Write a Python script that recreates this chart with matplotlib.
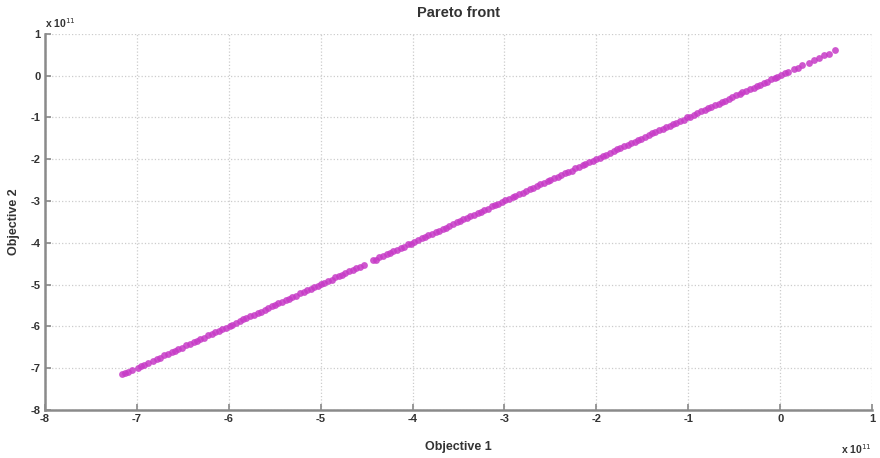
import matplotlib
matplotlib.use("Agg")
import matplotlib.pyplot as plt

# Pareto front points (units of 1e11)
obj1 = [-7.16, -7.13, -7.10, -7.05, -6.99, -6.95, -6.92, -6.88, -6.82, -6.78,
        -6.75, -6.70, -6.66, -6.62, -6.58, -6.55, -6.51, -6.46, -6.42, -6.38,
        -6.35, -6.31, -6.27, -6.22, -6.18, -6.15, -6.11, -6.07, -6.03, -5.99,
        -5.96, -5.92, -5.88, -5.84, -5.81, -5.77, -5.72, -5.68, -5.65, -5.61,
        -5.57, -5.53, -5.50, -5.46, -5.42, -5.38, -5.34, -5.31, -5.27, -5.22,
        -5.18, -5.15, -5.11, -5.07, -5.03, -5.00, -4.96, -4.92, -4.88, -4.84,
        -4.80, -4.77, -4.73, -4.69, -4.65, -4.61, -4.57, -4.53, -4.43, -4.40,
        -4.36, -4.32, -4.28, -4.24, -4.21, -4.17, -4.13, -4.09, -4.05, -4.02,
        -3.98, -3.94, -3.90, -3.86, -3.83, -3.79, -3.75, -3.71, -3.67, -3.64,
        -3.60, -3.56, -3.52, -3.48, -3.45, -3.41, -3.37, -3.33, -3.29, -3.26,
        -3.22, -3.18, -3.14, -3.10, -3.07, -3.03, -2.99, -2.95, -2.91, -2.88,
        -2.84, -2.80, -2.76, -2.72, -2.69, -2.65, -2.61, -2.57, -2.53, -2.50,
        -2.46, -2.42, -2.38, -2.34, -2.31, -2.27, -2.23, -2.19, -2.15, -2.12,
        -2.08, -2.04, -2.00, -1.96, -1.93, -1.89, -1.85, -1.81, -1.77, -1.74,
        -1.70, -1.66, -1.62, -1.58, -1.55, -1.51, -1.47, -1.43, -1.39, -1.36,
        -1.32, -1.28, -1.24, -1.20, -1.17, -1.13, -1.09, -1.05, -1.01, -0.98,
        -0.94, -0.90, -0.86, -0.82, -0.79, -0.75, -0.71, -0.67, -0.63, -0.60,
        -0.56, -0.52, -0.48, -0.44, -0.41, -0.37, -0.33, -0.29, -0.25, -0.22,
        -0.18, -0.14, -0.10, -0.06, -0.03, 0.01, 0.05, 0.09, 0.15, 0.19,
        0.24, 0.31, 0.37, 0.42, 0.48, 0.53, 0.60]
obj2 = [-7.15, -7.12, -7.10, -7.04, -6.99, -6.94, -6.92, -6.87, -6.82, -6.77,
        -6.75, -6.69, -6.66, -6.61, -6.58, -6.54, -6.51, -6.45, -6.42, -6.37,
        -6.35, -6.30, -6.27, -6.21, -6.18, -6.14, -6.11, -6.06, -6.03, -5.98,
        -5.96, -5.91, -5.88, -5.83, -5.81, -5.76, -5.72, -5.67, -5.65, -5.60,
        -5.57, -5.52, -5.50, -5.45, -5.42, -5.37, -5.34, -5.30, -5.27, -5.21,
        -5.18, -5.14, -5.11, -5.06, -5.03, -4.99, -4.96, -4.91, -4.88, -4.83,
        -4.80, -4.76, -4.73, -4.68, -4.65, -4.60, -4.57, -4.52, -4.42, -4.40,
        -4.35, -4.32, -4.27, -4.24, -4.20, -4.17, -4.12, -4.09, -4.04, -4.02,
        -3.97, -3.94, -3.89, -3.86, -3.82, -3.79, -3.74, -3.71, -3.66, -3.64,
        -3.59, -3.56, -3.51, -3.48, -3.44, -3.41, -3.36, -3.33, -3.28, -3.26,
        -3.21, -3.18, -3.13, -3.10, -3.06, -3.03, -2.98, -2.95, -2.90, -2.88,
        -2.83, -2.80, -2.75, -2.72, -2.68, -2.65, -2.60, -2.57, -2.52, -2.50,
        -2.45, -2.42, -2.37, -2.34, -2.30, -2.27, -2.22, -2.19, -2.14, -2.12,
        -2.07, -2.04, -1.99, -1.96, -1.92, -1.89, -1.84, -1.81, -1.76, -1.74,
        -1.69, -1.66, -1.61, -1.58, -1.54, -1.51, -1.46, -1.43, -1.38, -1.36,
        -1.31, -1.28, -1.23, -1.20, -1.16, -1.13, -1.08, -1.05, -1.00, -0.98,
        -0.93, -0.90, -0.85, -0.82, -0.78, -0.75, -0.70, -0.67, -0.62, -0.60,
        -0.55, -0.52, -0.47, -0.44, -0.40, -0.37, -0.32, -0.29, -0.24, -0.22,
        -0.17, -0.14, -0.09, -0.06, -0.02, 0.01, 0.06, 0.09, 0.16, 0.19,
        0.25, 0.31, 0.38, 0.42, 0.49, 0.53, 0.61]

xticks = list(range(-8, 2))
yticks = list(range(-8, 2))

plt.rcParams['font.family'] = ['Liberation Sans', 'DejaVu Sans']
plt.rcParams['axes.unicode_minus'] = False

fig = plt.figure(figsize=(8.8, 4.58), dpi=100)
ax = fig.add_axes([0.051, 0.105, 0.940, 0.821])

ax.scatter(obj1, obj2, s=24, color='#c63ac6', alpha=0.85, linewidths=0, zorder=3)

ax.set_xlim(-8, 1)
ax.set_ylim(-8, 1)
ax.set_xticks(xticks)
ax.set_yticks(yticks)
ax.tick_params(direction='in', length=4, width=1.2, color='#888888',
               labelsize=8, pad=3)
for lab in ax.get_xticklabels() + ax.get_yticklabels():
    lab.set_fontweight('bold')
    lab.set_color('#333333')

ax.grid(True, linestyle=':', color='#cccccc', linewidth=0.9)
ax.set_axisbelow(True)
for side in ['top', 'right']:
    ax.spines[side].set_visible(False)
for side in ['left', 'bottom']:
    ax.spines[side].set_color('#8a8a8a')
    ax.spines[side].set_linewidth(1.8)

ax.set_title("Pareto front", fontsize=10.5, fontweight='bold', color='#333333', pad=12)
ax.set_xlabel("Objective 1", fontsize=9, fontweight='bold', color='#333333', labelpad=12)
ax.set_ylabel("Objective 2", fontsize=9, fontweight='bold', color='#333333', labelpad=8)

# exponent labels like MATLAB
ax.text(0.0, 1.01, r"x 10$^{11}$", transform=ax.transAxes, fontsize=7.5,
        fontweight='bold', color='#333333', ha='left', va='bottom')
ax.text(1.0, -0.085, r"x 10$^{11}$", transform=ax.transAxes, fontsize=7.5,
        fontweight='bold', color='#333333', ha='right', va='top')

fig.savefig("out.png", dpi=100)
